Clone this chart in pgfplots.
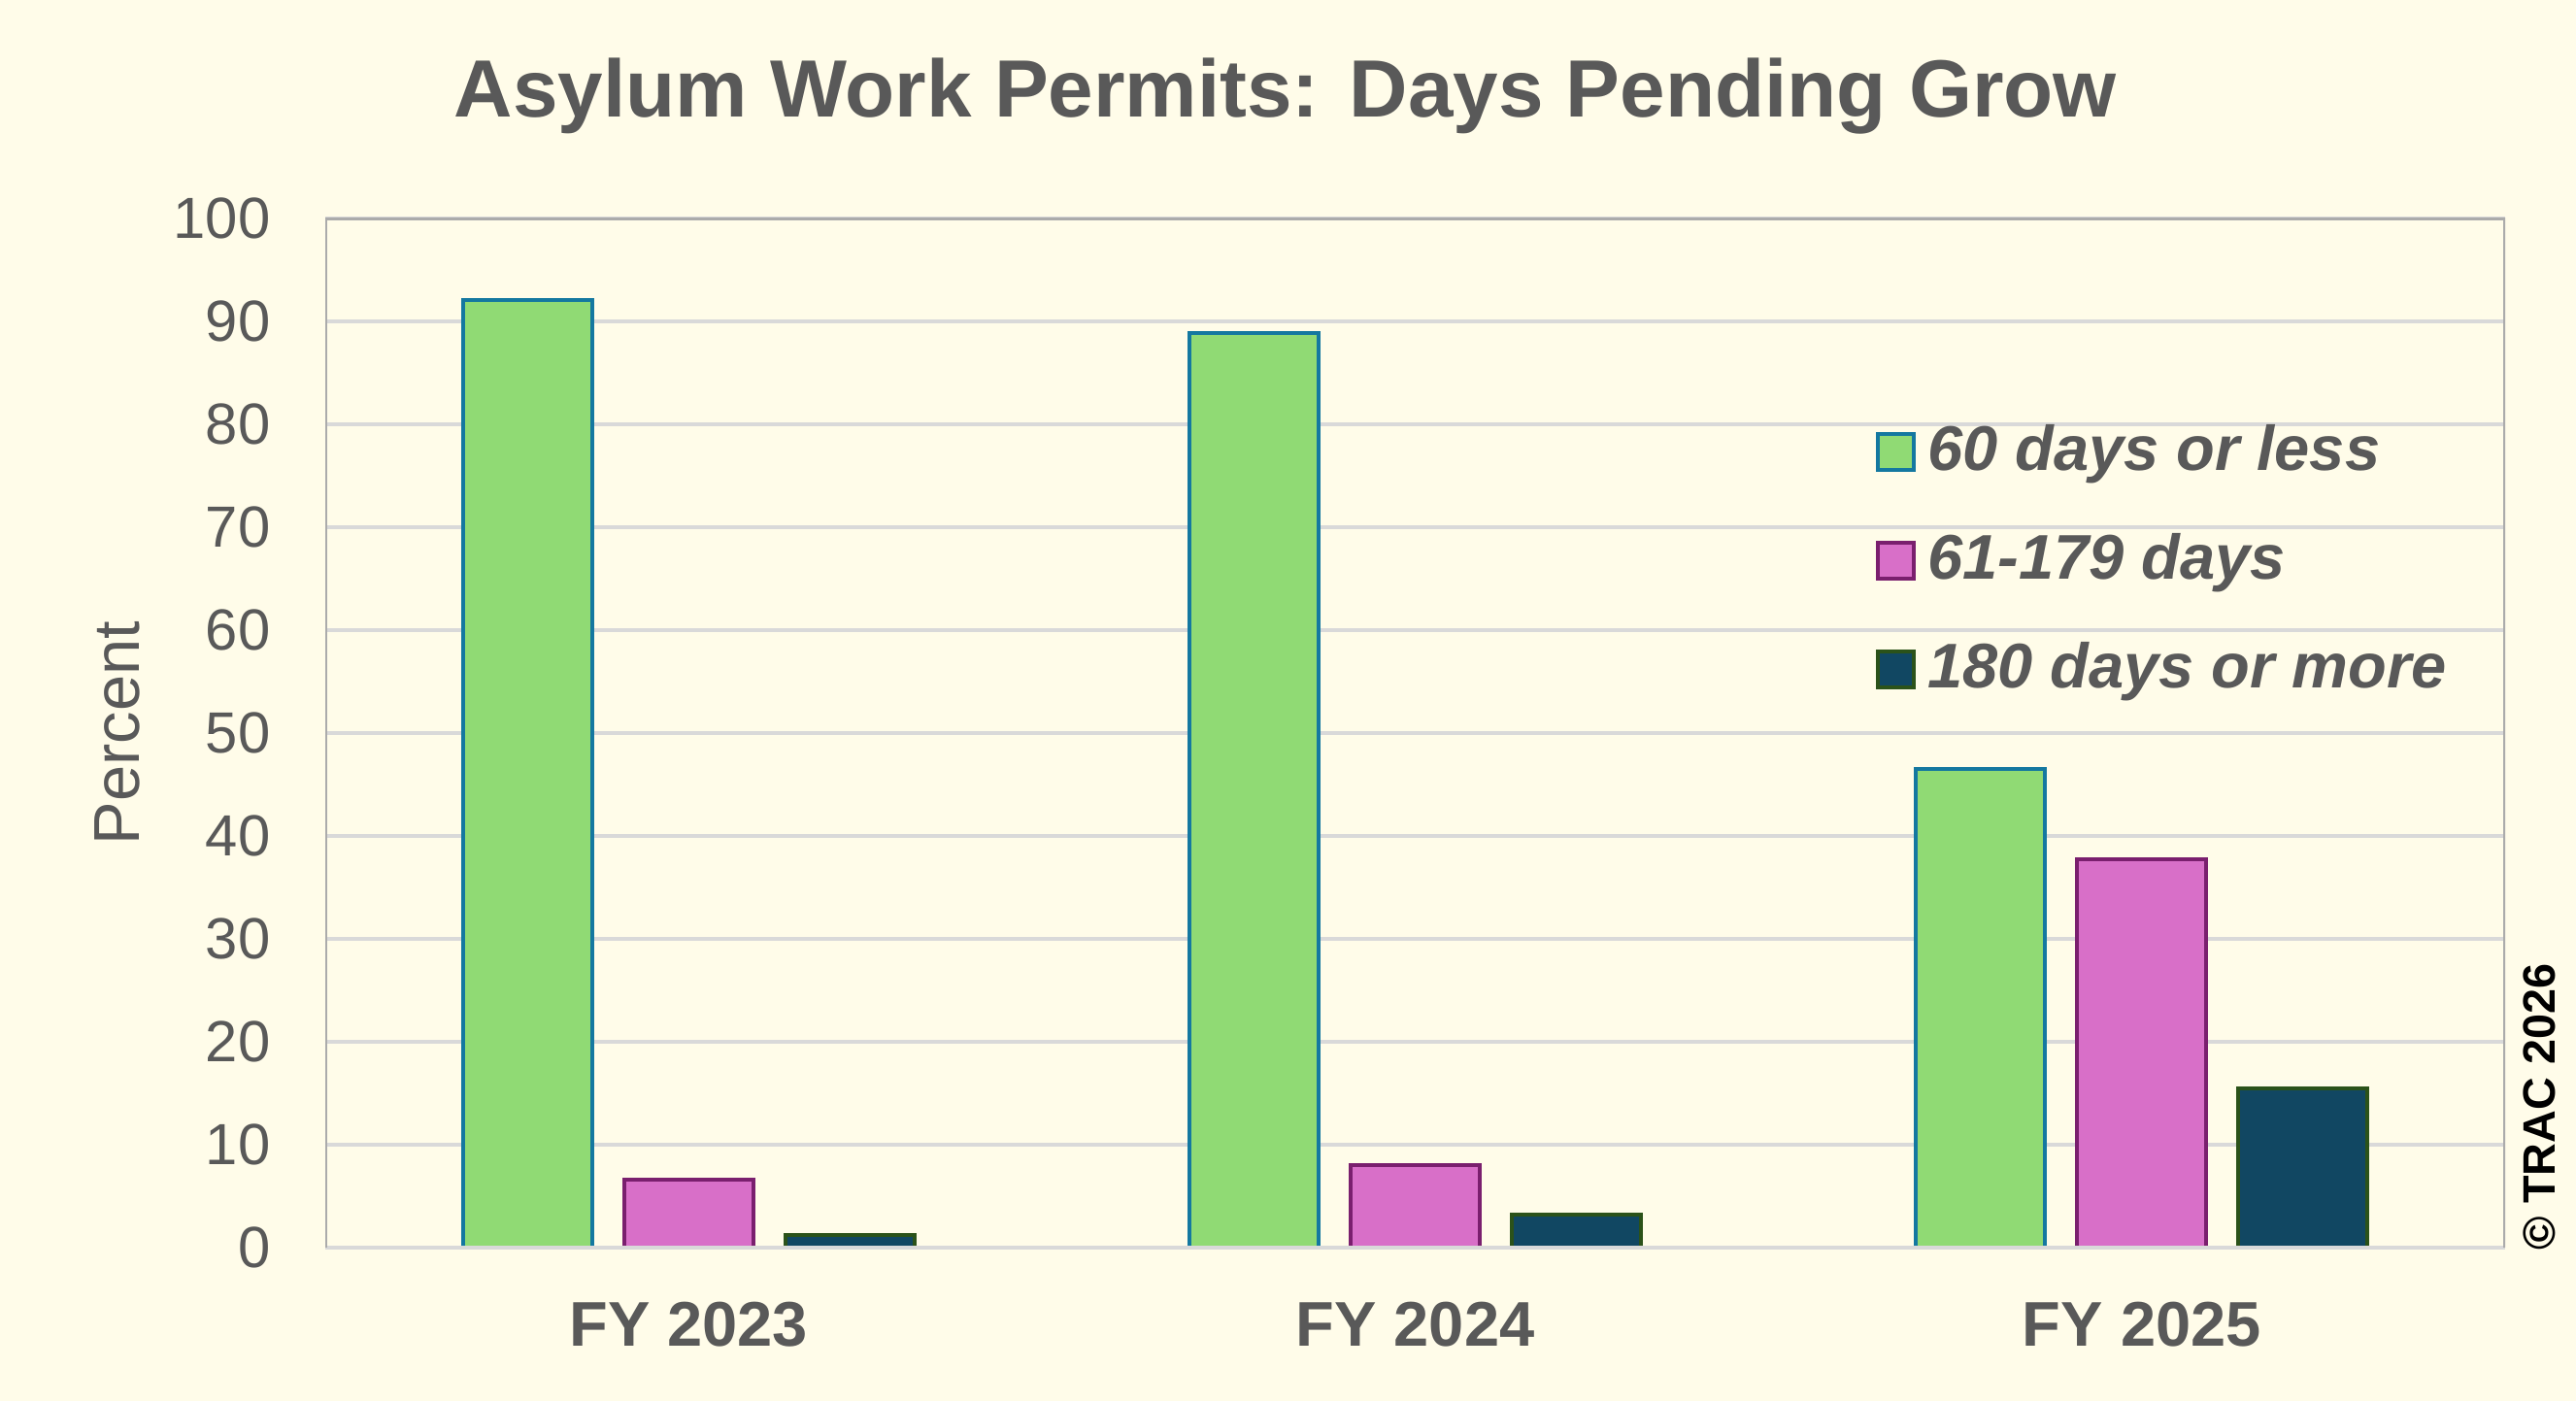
\documentclass[border=0pt]{standalone}
\usepackage{pgfplots}
\pgfplotsset{compat=1.18}
\usepackage{fontspec}
\setmainfont{Liberation Sans}
\definecolor{bg}{HTML}{FFFCE9}
\definecolor{txt}{HTML}{595959}
\definecolor{gridc}{HTML}{D9D9D9}
\definecolor{framec}{HTML}{ABABAB}
\definecolor{gfill}{HTML}{90DA74}
\definecolor{gline}{HTML}{1478A0}
\definecolor{pfill}{HTML}{D86FC8}
\definecolor{pline}{HTML}{7A1F6E}
\definecolor{dfill}{HTML}{114762}
\definecolor{dline}{HTML}{2B5219}
\begin{document}
\begin{tikzpicture}
\fill[bg] (0,0) rectangle (265.3mm,144.3mm);
\begin{axis}[
  at={(33.5mm,15.8mm)}, anchor=south west,
  scale only axis, width=224.5mm, height=106mm,
  xmin=-0.5, xmax=2.5, ymin=0, ymax=100,
  ybar=3.3mm, bar width=13.3mm,
  xtick={0,1,2}, xticklabels={FY 2023,FY 2024,FY 2025},
  ytick={0,10,...,100},
  /pgf/number format/assume math mode=true,
  major tick length=0pt,
  axis line style={draw=none},
  ymajorgrids, grid style={gridc, line width=0.45mm},
  tick label style={text=txt},
  xticklabel style={font=\fontsize{18.5pt}{20pt}\selectfont\bfseries, inner sep=0pt, anchor=north, yshift=-5.5mm},
  yticklabel style={font=\fontsize{17pt}{19pt}\selectfont, inner sep=0pt, anchor=east, xshift=-5.6mm},
  ylabel={Percent},
  ylabel style={at={(axis description cs:-0.0953,0.5)}, anchor=center, font=\fontsize{19pt}{21pt}\selectfont, text=txt},
  title={Asylum Work Permits: Days Pending Grow},
  title style={at={(axis description cs:0.4405,1)}, anchor=base, yshift=8.3mm, font=\fontsize{23.8pt}{26pt}\selectfont\bfseries, text=txt, inner sep=0pt},
  legend cell align=left,
  legend style={at={(axis description cs:0.7114,0.7925)}, anchor=north west, draw=none, fill=none, inner sep=0pt, outer sep=0pt,
    row sep=6.35mm, column sep=1.2mm,
    nodes={font=\fontsize{18.5pt}{20pt}\selectfont\bfseries\itshape, text=txt, inner sep=0pt, text height=0.75em, text depth=0.25em}},
  legend image code/.code={\draw[#1, line width=0.4mm] (0mm,-0.8mm) rectangle (3.7mm,2.9mm);},
]
\addplot[fill=gfill, draw=gline, line width=0.4mm] coordinates {(0,92.1) (1,88.9) (2,46.5)};
\addplot[fill=pfill, draw=pline, line width=0.4mm] coordinates {(0,6.6) (1,8.0) (2,37.7)};
\addplot[fill=dfill, draw=dline, line width=0.4mm] coordinates {(0,1.2) (1,3.2) (2,15.5)};
\legend{60 days or less,61-179 days,180 days or more}
\draw[gridc, line width=0.45mm] (rel axis cs:0,0) -- (rel axis cs:1,0);
\draw[framec, line width=0.45mm] (rel axis cs:0,0) -- (rel axis cs:0,1) -- (rel axis cs:1,1) -- (rel axis cs:1,0);
\end{axis}
\node[rotate=90, anchor=center, font=\fontsize{13.3pt}{15pt}\selectfont\bfseries, text=black, inner sep=0pt] at (261.5mm,30.3mm) {© TRAC 2026};
\end{tikzpicture}
\end{document}
